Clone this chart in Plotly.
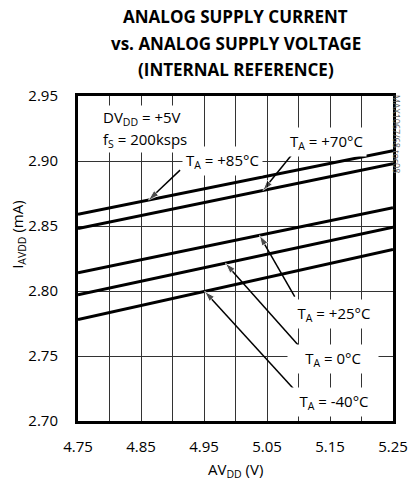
import numpy as np
import plotly.graph_objects as go

# ---- data ----
voltage = [4.75, 5.25]
i_85 = [2.859, 2.908]
i_70 = [2.848, 2.898]
i_25 = [2.814, 2.864]
i_0 = [2.797, 2.849]
i_m40 = [2.778, 2.832]
x_grid = [4.75, 4.80, 4.85, 4.90, 4.95, 5.00, 5.05, 5.10, 5.15, 5.20, 5.25]
x_labels = ["4.75", "", "4.85", "", "4.95", "", "5.05", "", "5.15", "", "5.25"]
y_ticks = [2.70, 2.75, 2.80, 2.85, 2.90, 2.95]
y_labels = ["2.70", "2.75", "2.80", "2.85", "2.90", "2.95"]
title_lines = ["ANALOG SUPPLY CURRENT", "vs. ANALOG SUPPLY VOLTAGE", "(INTERNAL REFERENCE)"]

PH = 325.0  # plot height px (483 - 96 - 62)
PW = 330.0  # plot width px (417 - 78 - 9)

def py(pix):  # pixel row -> paper y
    return (421 - pix) / PH

def px(pix):  # pixel column -> paper x
    return (pix - 78) / PW

fig = go.Figure()
for ys in [i_85, i_70, i_25, i_0, i_m40]:
    fig.add_trace(go.Scatter(x=voltage, y=ys, mode="lines",
                             line=dict(color="black", width=3), showlegend=False))

def on_line(ys, x):
    return float(np.interp(x, voltage, ys))

# arrows: tail -> tip on the curve, drawn as line + arrow-head marker
arrows = [
    (4.912, 2.893, 4.862, i_85),
    (5.089, 2.9046, 5.0435, i_70),
    (5.094, 2.7956, 5.038, i_25),
    (5.104, 2.756, 4.984, i_0),
    (5.0965, 2.7225, 4.951, i_m40),
]
for tx, ty, hx, ys in arrows:
    hy = on_line(ys, hx)
    fig.add_trace(go.Scatter(x=[tx, hx], y=[ty, hy], mode="lines+markers",
                             line=dict(color="black", width=1.5),
                             marker=dict(symbol="arrow", size=[0, 11], angleref="previous",
                                         color="black"),
                             showlegend=False))

labels = [
    ("T<sub>A</sub> = +85°C", 4.980, 2.900),
    ("T<sub>A</sub> = +70°C", 5.144, 2.915),
    ("T<sub>A</sub> = +25°C", 5.156, 2.782),
    ("T<sub>A</sub> = 0°C", 5.155, 2.748),
    ("T<sub>A</sub> = -40°C", 5.156, 2.7146),
]
for i, (t, x, y) in enumerate(labels):
    kw = dict(width=84) if i >= 2 else {}
    fig.add_annotation(x=x, y=y, xref="x", yref="y", text=t, showarrow=False,
                       xanchor="center", yanchor="middle",
                       bgcolor="white", borderpad=3,
                       font=dict(size=15, color="black"), **kw)

for t, pyx in [("DV<sub>DD</sub> = +5V", 118), ("f<sub>S</sub> = 200ksps", 140)]:
    fig.add_annotation(x=px(102), y=py(pyx), xref="paper", yref="paper",
                       xanchor="left", yanchor="middle", text=t, showarrow=False,
                       bgcolor="white", borderpad=1, font=dict(size=15, color="black"))

for t, pyx in zip(title_lines, [16.7, 43.3, 70.0]):
    fig.add_annotation(x=0.5, y=py(pyx), xref="paper", yref="paper",
                       xanchor="center", yanchor="middle", text="<b>" + t + "</b>",
                       showarrow=False, font=dict(size=17, color="black"))

fig.add_annotation(x=px(412), y=py(93), xref="paper", yref="paper", xanchor="center",
                   yanchor="top", text="MAX1067/68 toc08", textangle=90, showarrow=False,
                   font=dict(size=9, color="#666"))

fig.add_annotation(x=px(15), y=py(235), xref="paper", yref="paper",
                   xanchor="center", yanchor="middle",
                   text="I<sub>AVDD</sub> (mA)", showarrow=False, textangle=-90,
                   font=dict(size=15, color="black"))
fig.add_annotation(x=0.5, y=py(470), xref="paper", yref="paper",
                   xanchor="center", yanchor="middle",
                   text="AV<sub>DD</sub> (V)", showarrow=False,
                   font=dict(size=15, color="black"))

fig.update_layout(
    width=417, height=483, margin=dict(l=78, r=9, t=96, b=62),
    paper_bgcolor="white", plot_bgcolor="white",
    font=dict(size=15, color="black"),
    xaxis=dict(range=[4.75, 5.25], tickvals=x_grid, ticktext=x_labels, showgrid=True,
               gridcolor="#333", showline=True, linecolor="black", linewidth=3, mirror=True,
               ticks="outside", ticklen=10, tickcolor="white",
               ticklabeloverflow="allow"),
    yaxis=dict(range=[2.70, 2.95], tickvals=y_ticks, ticktext=y_labels, showgrid=True,
               gridcolor="#333", showline=True, linecolor="black", linewidth=3, mirror=True,
               ticks="outside", ticklen=14, tickcolor="white",
               ticklabeloverflow="allow"),
)
fig.write_html("out.html", config={"displayModeBar": False},
               post_script="document.body.style.margin='0';")
